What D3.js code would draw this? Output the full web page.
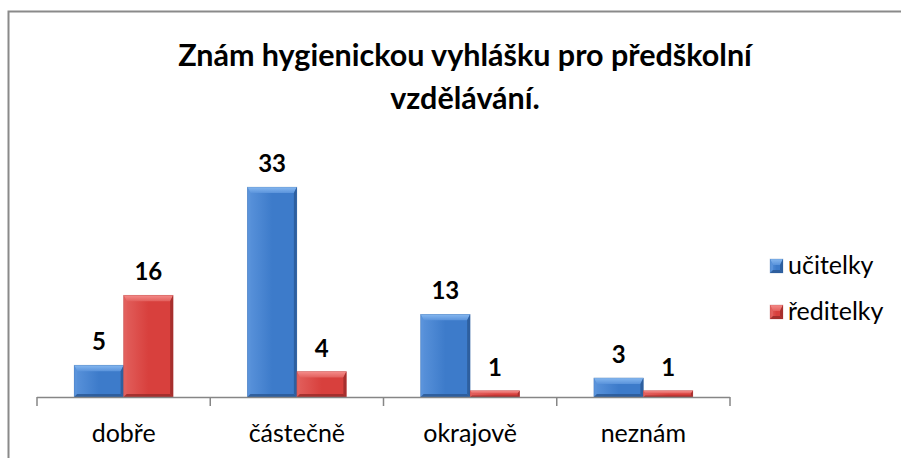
<!DOCTYPE html>
<html>
<head>
<meta charset="utf-8">
<script src="https://cdn.jsdelivr.net/npm/d3@7"></script>
<style>
  body { margin: 0; background: #fff; }
  svg { display: block; }
</style>
</head>
<body>
<svg id="chart" width="901" height="458"></svg>
<script>
const categories = ['dobře', 'částečně', 'okrajově', 'neznám']
const seriesNames = ['učitelky', 'ředitelky']
const ucitelky = [5, 33, 13, 3]
const reditelky = [16, 4, 1, 1]
const titleLines = ['Znám hygienickou vyhlášku pro předškolní', 'vzdělávání.']

const palette = [
  { main: '#3d7bca', light: '#86b8f0', dark: '#2c5b98', edge: '#5a93db' },
  { main: '#d8403d', light: '#f58c8a', dark: '#9f2d2b', edge: '#e2605d' }
]

const svg = d3.select('#chart')
const font = 'Lato, Carlito, "Open Sans", sans-serif'

// outer frame (only top/left visible)
svg.append('rect')
  .attr('x', 8.5).attr('y', 11.5)
  .attr('width', 1000).attr('height', 1000)
  .attr('fill', 'none').attr('stroke', '#8a8a8a').attr('stroke-width', 2)

const plot = { left: 37, right: 730, bottom: 397 }

const x0 = d3.scaleBand().domain(categories).range([plot.left, plot.right])
// gap width 150% -> group takes 2 bars of w, gap 1.5w => 2w/(3.5w)
const groupInner = x0.bandwidth() * 2 / 3.5
const x1 = d3.scaleBand().domain(seriesNames).range([0, groupInner])
const y = d3.scaleLinear().domain([0, 35]).range([plot.bottom, plot.bottom - 222.6])

// gradients
const defs = svg.append('defs')
palette.forEach((p, i) => {
  const g = defs.append('linearGradient').attr('id', 'top' + i)
    .attr('x1', 0).attr('y1', 0).attr('x2', 0).attr('y2', 1)
  g.append('stop').attr('offset', 0).attr('stop-color', p.light)
  g.append('stop').attr('offset', 1).attr('stop-color', p.edge)
  const b = defs.append('linearGradient').attr('id', 'body' + i)
    .attr('x1', 0).attr('y1', 0).attr('x2', 1).attr('y2', 0)
  b.append('stop').attr('offset', 0).attr('stop-color', p.edge)
  b.append('stop').attr('offset', 0.5).attr('stop-color', p.main)
  b.append('stop').attr('offset', 1).attr('stop-color', p.main)
})

const rows = []
categories.forEach((c, ci) => {
  ;[ucitelky, reditelky].forEach((vals, si) => {
    rows.push({ cat: c, s: si, name: seriesNames[si], value: vals[ci] })
  })
})

function bevelBar(g, x, yTop, w, h, si) {
  const p = palette[si]
  const bt = Math.min(6, h * 0.45), bs = Math.min(3, h * 0.3), bb = Math.min(3, h * 0.25)
  const xr = x + w, yb = yTop + h
  g.append('rect').attr('x', x).attr('y', yTop).attr('width', w).attr('height', h)
    .attr('fill', `url(#body${si})`)
  // top facet
  g.append('path').attr('d', `M${x},${yTop}L${xr},${yTop}L${xr - bs},${yTop + bt}L${x + bs},${yTop + bt}Z`)
    .attr('fill', `url(#top${si})`)
  // left facet
  g.append('path').attr('d', `M${x},${yTop}L${x + bs},${yTop + bt}L${x + bs},${yb - bb}L${x},${yb}Z`)
    .attr('fill', p.edge)
  // right facet
  g.append('path').attr('d', `M${xr},${yTop}L${xr},${yb}L${xr - bs},${yb - bb}L${xr - bs},${yTop + bt}Z`)
    .attr('fill', p.dark).attr('opacity', 0.85)
  // bottom facet
  g.append('path').attr('d', `M${x},${yb}L${xr},${yb}L${xr - bs},${yb - bb}L${x + bs},${yb - bb}Z`)
    .attr('fill', p.dark).attr('opacity', 0.9)
  g.append('rect').attr('x', x).attr('y', yTop).attr('width', w).attr('height', h)
    .attr('fill', 'none').attr('stroke', p.dark).attr('stroke-opacity', 0.35).attr('stroke-width', 0.6)
}

const barsG = svg.append('g')
rows.forEach(d => {
  const bx = x0(d.cat) + (x0.bandwidth() - groupInner) / 2 + x1(d.name)
  const by = y(d.value)
  bevelBar(barsG.append('g'), bx, by, x1.bandwidth(), plot.bottom - by, d.s)
  svg.append('text')
    .attr('x', bx + x1.bandwidth() / 2)
    .attr('y', by - 15)
    .attr('text-anchor', 'middle')
    .attr('font-family', font).attr('font-weight', 'bold').attr('font-size', 24)
    .attr('fill', '#000')
    .text(d.value)
})

// axis
const axis = svg.append('g')
axis.append('line')
  .attr('x1', plot.left).attr('x2', plot.right)
  .attr('y1', plot.bottom + 0.5).attr('y2', plot.bottom + 0.5)
  .attr('stroke', '#868686').attr('stroke-width', 1.5)
const tickXs = categories.map(c => x0(c)).concat([plot.right])
axis.selectAll('line.tick').data(tickXs).join('line')
  .attr('class', 'tick')
  .attr('x1', d => d).attr('x2', d => d)
  .attr('y1', plot.bottom).attr('y2', plot.bottom + 9)
  .attr('stroke', '#868686').attr('stroke-width', 1.5)
axis.selectAll('text').data(categories).join('text')
  .attr('x', d => x0(d) + x0.bandwidth() / 2)
  .attr('y', 442)
  .attr('text-anchor', 'middle')
  .attr('font-family', font).attr('font-size', 25)
  .attr('fill', '#000')
  .text(d => d)

// title
svg.selectAll('text.title').data(titleLines).join('text')
  .attr('class', 'title')
  .attr('x', 465)
  .attr('y', (d, i) => 66 + i * 43)
  .attr('text-anchor', 'middle')
  .attr('font-family', font).attr('font-weight', 'bold').attr('font-size', 30.5)
  .attr('fill', '#000')
  .text(d => d)

// legend
const legend = svg.append('g')
seriesNames.forEach((n, i) => {
  const ly = 266 + i * 46
  const lg = legend.append('g')
  bevelBar(lg, 770, ly - 7, 13, 14, i)
  lg.append('text')
    .attr('x', 788).attr('y', ly + 8)
    .attr('font-family', font).attr('font-size', 25)
    .attr('fill', '#000')
    .text(n)
})
</script>
</body>
</html>
